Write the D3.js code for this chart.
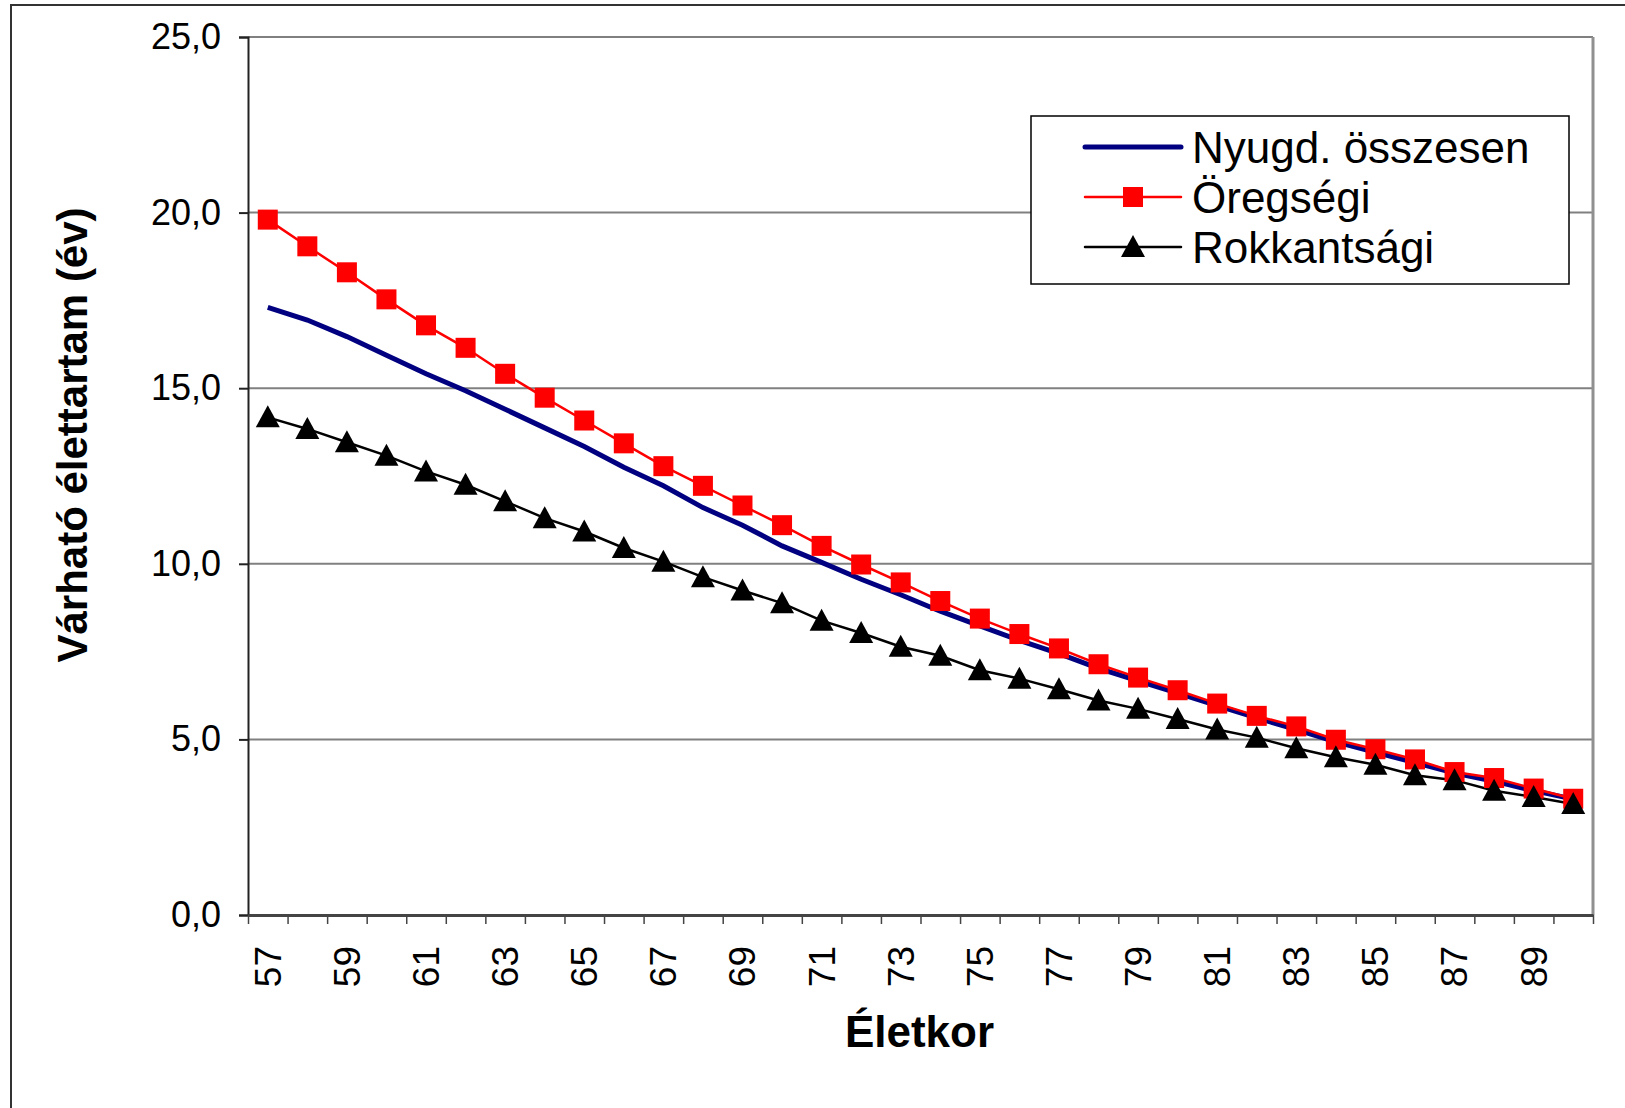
<!DOCTYPE html>
<html>
<head>
<meta charset="utf-8">
<script src="https://cdn.jsdelivr.net/npm/d3@7"></script>
<style>
  body { margin: 0; background: #fff; }
  svg text { font-family: "Liberation Sans", Arial, sans-serif; }
</style>
</head>
<body>
<div id="chart-area"></div>
<script>
// data
var ages = [57,58,59,60,61,62,63,64,65,66,67,68,69,70,71,72,73,74,75,76,77,78,79,80,81,82,83,84,85,86,87,88,89,90];
var nyugdOsszesen = [17.30,16.94,16.47,15.94,15.41,14.93,14.40,13.87,13.34,12.75,12.22,11.60,11.10,10.51,10.04,9.56,9.12,8.65,8.23,7.82,7.44,7.02,6.67,6.32,5.96,5.61,5.28,4.93,4.63,4.34,4.04,3.81,3.54,3.30];
var oregsegi = [19.80,19.04,18.30,17.53,16.79,16.15,15.41,14.73,14.08,13.43,12.78,12.22,11.66,11.10,10.51,9.98,9.47,8.94,8.44,8.00,7.59,7.14,6.76,6.40,6.02,5.67,5.37,4.99,4.72,4.43,4.07,3.90,3.60,3.31];
var rokkantsagi = [14.17,13.84,13.46,13.08,12.63,12.25,11.78,11.30,10.92,10.45,10.06,9.62,9.24,8.88,8.38,8.03,7.64,7.38,6.97,6.73,6.43,6.11,5.87,5.58,5.28,5.05,4.75,4.49,4.28,3.98,3.84,3.54,3.36,3.16];
var yTicks = [0, 5, 10, 15, 20, 25];
var seriesNames = ["Nyugd. összesen", "Öregségi", "Rokkantsági"];

var svg_width = 1625;
var svg_height = 1108;
var margin = {left: 248, top: 37, right: 32, bottom: 193};
var w = svg_width - margin.left - margin.right;
var h = svg_height - margin.top - margin.bottom;

var svg = d3.select("#chart-area").append("svg")
    .attr("width", svg_width)
    .attr("height", svg_height);

// outer chart border
svg.append("rect")
    .attr("x", 11).attr("y", 5)
    .attr("width", 1700).attr("height", 1200)
    .attr("fill", "none")
    .attr("stroke", "#333")
    .attr("stroke-width", 2);

var g = svg.append("g")
    .attr("transform", "translate(" + margin.left + "," + margin.top + ")");

var x = d3.scaleBand()
    .domain(ages)
    .range([0, w]);

var xb = d3.scaleLinear()
    .domain([0, ages.length])
    .range([0, w]);

var y = d3.scaleLinear()
    .domain([0, 25])
    .range([h, 0]);

var fmt = function(d) { return d3.format(".1f")(d).replace(".", ","); };

// gridlines
g.selectAll(".grid")
    .data(yTicks.slice(1))
    .enter().append("line")
    .attr("x1", 0).attr("x2", w)
    .attr("y1", function(d) { return y(d); })
    .attr("y2", function(d) { return y(d); })
    .attr("stroke", "#808080")
    .attr("stroke-width", 2);

// right border of plot
g.append("line")
    .attr("x1", w).attr("x2", w)
    .attr("y1", 0).attr("y2", h)
    .attr("stroke", "#909090")
    .attr("stroke-width", 3);

// y axis
var yAxis = g.append("g")
    .call(d3.axisLeft(y).tickValues(yTicks).tickFormat(fmt).tickSize(9).tickPadding(18));
yAxis.select(".domain").attr("stroke", "#222").attr("stroke-width", 2);
yAxis.selectAll(".tick line").attr("stroke", "#222").attr("stroke-width", 2);
yAxis.selectAll("text")
    .attr("font-size", 36)
    .attr("fill", "#000");

// x axis: tick marks on category boundaries
var xTickAxis = g.append("g")
    .attr("transform", "translate(0," + h + ")")
    .call(d3.axisBottom(xb).tickValues(d3.range(0, ages.length + 1)).tickFormat("").tickSize(9).tickSizeOuter(0));
xTickAxis.select(".domain").attr("stroke", "#444").attr("stroke-width", 3);
xTickAxis.selectAll(".tick line").attr("stroke", "#444").attr("stroke-width", 1.5);

// x axis labels on every other category
var xAxis = g.append("g")
    .attr("transform", "translate(0," + h + ")")
    .call(d3.axisBottom(x).tickValues(ages.filter(function(d) { return d % 2 === 1; })).tickSize(0));
xAxis.select(".domain").remove();
xAxis.selectAll("text")
    .attr("font-size", 37)
    .attr("fill", "#000")
    .attr("text-anchor", "end")
    .attr("transform", "rotate(-90)")
    .attr("x", -31)
    .attr("y", 0)
    .attr("dy", "0.35em");

// axis titles
svg.append("text")
    .attr("x", margin.left + w / 2 - 1)
    .attr("y", 1047)
    .attr("text-anchor", "middle")
    .attr("font-size", 44)
    .attr("font-weight", "bold")
    .text("Életkor");

svg.append("text")
    .attr("transform", "translate(87," + 435 + ") rotate(-90)")
    .attr("text-anchor", "middle")
    .attr("font-size", 42)
    .attr("font-weight", "bold")
    .text("Várható élettartam (év)");

var cx = function(d, i) { return x(ages[i]) + x.bandwidth() / 2; };
var line = d3.line()
    .x(function(d, i) { return cx(d, i); })
    .y(function(d) { return y(d); });

// series
g.append("path")
    .datum(nyugdOsszesen)
    .attr("d", line)
    .attr("fill", "none")
    .attr("stroke", "#000080")
    .attr("stroke-width", 5);

g.append("path")
    .datum(rokkantsagi)
    .attr("d", line)
    .attr("fill", "none")
    .attr("stroke", "#000")
    .attr("stroke-width", 2.5);

g.append("path")
    .datum(oregsegi)
    .attr("d", line)
    .attr("fill", "none")
    .attr("stroke", "#ff0000")
    .attr("stroke-width", 2.5);

var sq = 20;
g.selectAll(".sq")
    .data(oregsegi)
    .enter().append("rect")
    .attr("x", function(d, i) { return cx(d, i) - sq / 2; })
    .attr("y", function(d) { return y(d) - sq / 2; })
    .attr("width", sq).attr("height", sq)
    .attr("fill", "#ff0000");

// triangle marker, 24 wide and 22 tall
var tri = "M0,-12L12,10L-12,10Z";
g.selectAll(".tri")
    .data(rokkantsagi)
    .enter().append("path")
    .attr("d", tri)
    .attr("transform", function(d, i) { return "translate(" + cx(d, i) + "," + y(d) + ")"; })
    .attr("fill", "#000");

// legend
var lg = svg.append("g").attr("transform", "translate(1031,116)");
lg.append("rect")
    .attr("width", 538).attr("height", 168)
    .attr("fill", "#fff")
    .attr("stroke", "#000")
    .attr("stroke-width", 1.5);

var rowY = [31, 81, 131];
var lineColors = ["#000080", "#ff0000", "#000"];
var lineWidths = [5, 2.5, 2.5];
seriesNames.forEach(function(name, i) {
    lg.append("line")
        .attr("x1", 54).attr("x2", 150)
        .attr("y1", rowY[i]).attr("y2", rowY[i])
        .attr("stroke", lineColors[i])
        .attr("stroke-width", lineWidths[i])
        .attr("stroke-linecap", "round");
    lg.append("text")
        .attr("x", 161)
        .attr("y", rowY[i])
        .attr("dy", "0.36em")
        .attr("font-size", 44)
        .text(name);
});
lg.append("rect")
    .attr("x", 102 - sq / 2).attr("y", rowY[1] - sq / 2)
    .attr("width", sq).attr("height", sq)
    .attr("fill", "#ff0000");
lg.append("path")
    .attr("d", tri)
    .attr("transform", "translate(102," + rowY[2] + ")")
    .attr("fill", "#000");
</script>
</body>
</html>
